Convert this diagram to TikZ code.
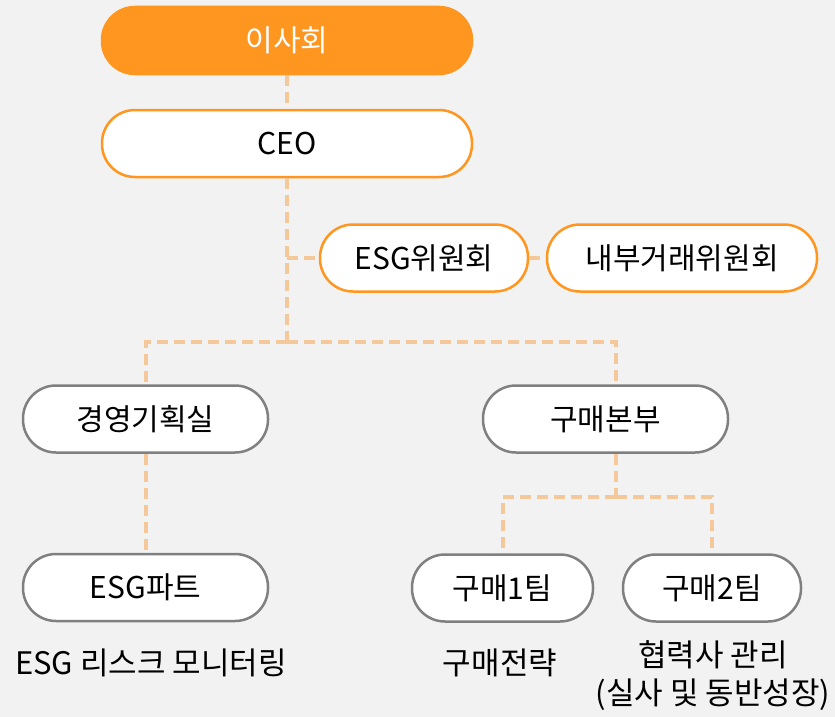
\documentclass[tikz,border=0pt]{standalone}
\usepackage{fontspec}
\setmainfont{Noto Sans CJK KR}
\begin{document}
\begin{tikzpicture}[x=1pt,y=-1pt]
\definecolor{bgray}{HTML}{F2F2F2}
\definecolor{deeporange}{HTML}{FF9620}
\definecolor{paleorange}{HTML}{F5C89A}
\definecolor{edgegray}{HTML}{808080}
\tikzset{
  pill/.style={draw, line width=2.5pt, rounded corners=33pt, minimum height=67pt,
    inner sep=0pt, font=\fontsize{30}{34}\selectfont},
  boardbox/.style={pill, draw=deeporange, fill=deeporange, text=white, minimum width=370pt},
  execbox/.style={pill, draw=deeporange, fill=white, minimum width=370pt},
  cmtbox/.style={pill, draw=deeporange, fill=white},
  unitbox/.style={pill, draw=edgegray, fill=white},
  link/.style={draw=paleorange, line width=4pt, dash pattern=on 11pt off 6pt},
  note/.style={font=\fontsize{31}{38}\selectfont, align=center, inner sep=0pt}
}
\fill[bgray] (0,0) rectangle (835,717);
\useasboundingbox (0,0) rectangle (835,717);

\node[boardbox] (board) at (287,40.5) {이사회};
\node[execbox] (ceo) at (287,143.5) {CEO};
\node[cmtbox, minimum width=208pt] (esg) at (424,258) {ESG위원회};
\node[cmtbox, minimum width=270pt] (internal) at (682,258) {내부거래위원회};
\node[unitbox, minimum width=245pt] (plan) at (145.5,419) {경영기획실};
\node[unitbox, minimum width=245pt] (purchase) at (605.5,419) {구매본부};
\node[unitbox, minimum width=245pt] (esgpart) at (145.5,587.5) {ESG파트};
\node[unitbox, minimum width=181pt] (team1) at (502.5,588) {구매1팀};
\node[unitbox, minimum width=178pt] (team2) at (712,588) {구매2팀};

\node[note] (risk) at (151,663) {ESG 리스크 모니터링};
\node[note] (strategy) at (500,663) {구매전략};
\node[note] (partner) at (713,676) {협력사 관리\\(실사 및 동반성장)};

\coordinate (split) at (287,342);
\coordinate (subsplit) at (616,497);

\path[link] (board) -- (ceo);
\path[link] (ceo.south) -- (split);
\path[link] (ceo.south |- esg.west) -- (esg.west);
\path[link] (esg) -- (internal);
\path[link] (split) -| (plan.north);
\path[link] (split) -| (subsplit |- purchase.north);
\path[link] (plan) -- (esgpart);
\path[link] (subsplit |- purchase.south) -- (subsplit);
\path[link] (subsplit) -| (team1.north);
\path[link] (subsplit) -| (team2.north);
\end{tikzpicture}
\end{document}
